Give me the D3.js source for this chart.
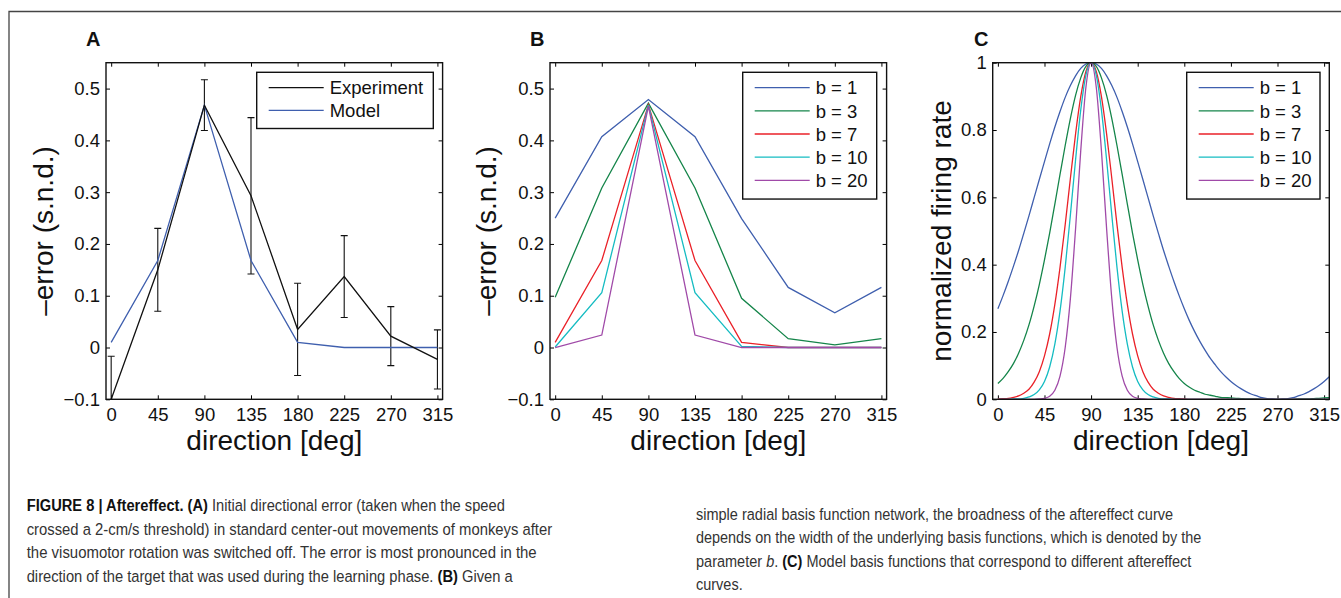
<!DOCTYPE html>
<html>
<head>
<meta charset="utf-8">
<script src="https://cdn.jsdelivr.net/npm/d3@7"></script>
<style>
  body { margin: 0; background: #fff; }
  svg { display: block; font-family: "Liberation Sans", Arial, Helvetica, sans-serif; }
</style>
</head>
<body>
<svg id="fig" width="1341" height="598"></svg>
<script>
// directions (deg) used in A and B
const directions = [0, 45, 90, 135, 180, 225, 270, 315];
const xTicks = [0, 45, 90, 135, 180, 225, 270, 315];

// panel A
const experiment = [-0.1, 0.15, 0.468, 0.293, 0.035, 0.137, 0.022, -0.023];
const experimentErr = [0.083, 0.08, 0.049, 0.151, 0.089, 0.079, 0.057, 0.057];
const model = [0.01, 0.168, 0.468, 0.168, 0.01, 0, 0, 0];

// panel B, aftereffect curves for each b
const bLabels = ["b = 1", "b = 3", "b = 7", "b = 10", "b = 20"];
const bColors = ["#3f5fae", "#15854a", "#ea2128", "#15bcc2", "#a04aa8"];
const afterB1 = [0.25, 0.407, 0.479, 0.407, 0.249, 0.116, 0.067, 0.116];
const afterB3 = [0.097, 0.308, 0.472, 0.308, 0.095, 0.017, 0.005, 0.017];
const afterB7 = [0.01, 0.168, 0.469, 0.168, 0.01, 0, 0, 0];
const afterB10 = [0.001, 0.106, 0.468, 0.106, 0.002, 0, 0, 0];
const afterB20 = [0, 0.024, 0.466, 0.024, 0, 0, 0, 0];

// panel C, basis functions sampled every 5 deg from 0 to 320
const basisDeg = [0,5,10,15,20,25,30,35,40,45,50,55,60,65,70,75,80,85,90,95,100,105,110,115,120,125,130,135,140,145,150,155,160,165,170,175,180,185,190,195,200,205,210,215,220,225,230,235,240,245,250,255,260,265,270,275,280,285,290,295,300,305,310,315,320];
const basisB1 = [0.269,0.308,0.350,0.395,0.442,0.493,0.545,0.599,0.653,0.706,0.759,0.809,0.855,0.897,0.932,0.961,0.983,0.996,1.000,
  0.996,0.983,0.961,0.932,0.897,0.855,0.809,0.759,0.706,0.653,0.599,0.545,0.493,0.442,0.395,0.350,0.308,0.269,
  0.233,0.201,0.172,0.146,0.122,0.102,0.083,0.067,0.053,0.041,0.031,0.022,0.015,0.010,0.005,0.002,0.001,0.000,0.001,0.002,0.005,0.010,0.015,0.022,0.031,0.041,0.053,0.067];
const basisB3 = [0.047,0.062,0.082,0.106,0.137,0.175,0.221,0.277,0.341,0.414,0.494,0.580,0.668,0.754,0.834,0.903,0.955,0.989,1.000,
  0.989,0.955,0.903,0.834,0.754,0.668,0.580,0.494,0.414,0.341,0.277,0.221,0.175,0.137,0.106,0.082,0.062,0.047,
  0.036,0.027,0.021,0.015,0.012,0.009,0.006,0.005,0.004,0.003,0.002,0.001,0.001,0.001,0,0,0,0,0,0,0,0.001,0.001,0.001,0.002,0.003,0.004,0.005];
const basisB7 = [0.001,0.002,0.003,0.006,0.010,0.018,0.030,0.051,0.082,0.129,0.194,0.282,0.392,0.519,0.656,0.788,0.899,0.974,1.000,
  0.974,0.899,0.788,0.656,0.519,0.392,0.282,0.194,0.129,0.082,0.051,0.030,0.018,0.010,0.006,0.003,0.002,0.001,
  0,0,0,0,0,0,0,0,0,0,0,0,0,0,0,0,0,0,0,0,0,0,0,0,0,0,0,0];
const basisB10 = [0,0,0,0.001,0.001,0.003,0.007,0.014,0.028,0.053,0.096,0.164,0.262,0.392,0.547,0.711,0.859,0.963,1.000,
  0.963,0.859,0.711,0.547,0.392,0.262,0.164,0.096,0.053,0.028,0.014,0.007,0.003,0.001,0.001,0,0,0,
  0,0,0,0,0,0,0,0,0,0,0,0,0,0,0,0,0,0,0,0,0,0,0,0,0,0,0,0];
const basisB20 = [0,0,0,0,0,0,0,0,0.001,0.003,0.009,0.027,0.069,0.154,0.299,0.506,0.738,0.927,1.000,
  0.927,0.738,0.506,0.299,0.154,0.069,0.027,0.009,0.003,0.001,0,0,0,0,0,0,0,0,
  0,0,0,0,0,0,0,0,0,0,0,0,0,0,0,0,0,0,0,0,0,0,0,0,0,0,0,0];

const errTicks = [-0.1, 0, 0.1, 0.2, 0.3, 0.4, 0.5];
const rateTicks = [0, 0.2, 0.4, 0.6, 0.8, 1];

const svg = d3.select("#fig");
svg.append("rect").attr("width", 1341).attr("height", 598).attr("fill", "#fff");

// figure frame (top + left only)
svg.append("path")
  .attr("d", "M9,598V11.5H1341")
  .attr("fill", "none").attr("stroke", "#444").attr("stroke-width", 1.3);

const axTop = 62.7, axBottom = 399.3, side = 336.6;

function panel(opts) {
  const x = d3.scaleLinear().domain([-5, 320]).range([opts.x0, opts.x0 + side]);
  const y = d3.scaleLinear().domain(opts.yDomain).range([axBottom, axTop]);
  const g = svg.append("g");
  const fmt = d3.format(".1~f");

  const clipId = "clip" + opts.letter;
  g.append("clipPath").attr("id", clipId)
    .append("rect").attr("x", opts.x0).attr("y", axTop).attr("width", side).attr("height", axBottom - axTop);

  const styleAxis = sel => {
    sel.select(".domain").remove();
    sel.attr("font-family", null).attr("font-size", 18.5);
    sel.selectAll(".tick line").attr("stroke", "#000").attr("stroke-width", 1);
    sel.selectAll(".tick text").attr("fill", "#111");
  };

  g.append("g").attr("transform", `translate(0,${axBottom})`)
    .call(d3.axisBottom(x).tickValues(xTicks).tickSize(-4).tickPadding(9).tickFormat(d3.format("d")))
    .call(styleAxis);
  g.append("g").attr("transform", `translate(0,${axTop})`)
    .call(d3.axisTop(x).tickValues(xTicks).tickSize(-4).tickFormat(""))
    .call(styleAxis);
  g.append("g").attr("transform", `translate(${opts.x0},0)`)
    .call(d3.axisLeft(y).tickValues(opts.yTicks).tickSize(-4).tickPadding(6).tickFormat(fmt))
    .call(styleAxis);
  g.append("g").attr("transform", `translate(${opts.x0 + side},0)`)
    .call(d3.axisRight(y).tickValues(opts.yTicks).tickSize(-4).tickFormat(""))
    .call(styleAxis);

  const plot = g.append("g").attr("clip-path", `url(#${clipId})`);
  opts.draw(plot, x, y);

  // axes box
  g.append("rect").attr("x", opts.x0).attr("y", axTop).attr("width", side).attr("height", axBottom - axTop)
    .attr("fill", "none").attr("stroke", "#111").attr("stroke-width", 1.4);

  // labels
  g.append("text").attr("x", opts.x0 + side / 2).attr("y", 450)
    .attr("text-anchor", "middle").attr("font-size", 28).attr("fill", "#111")
    .text("direction [deg]");
  g.append("text")
    .attr("transform", `translate(${opts.ylabelX},${(axTop + axBottom) / 2}) rotate(-90)`)
    .attr("text-anchor", "middle").attr("font-size", 28).attr("fill", "#111")
    .text(opts.ylabel);
  g.append("text").attr("x", opts.letterX).attr("y", 45.5)
    .attr("font-size", 20).attr("font-weight", "bold").attr("fill", "#111")
    .text(opts.letter);

  // legend
  const lg = g.append("g");
  lg.append("rect").attr("x", opts.legend.x).attr("y", 72.3)
    .attr("width", opts.legend.w).attr("height", 11 + opts.legend.items.length * opts.legend.step)
    .attr("fill", "#fff").attr("stroke", "#111").attr("stroke-width", 1.4);
  opts.legend.items.forEach((it, i) => {
    const cy = 87.7 + i * opts.legend.step;
    lg.append("line").attr("x1", opts.legend.x + 12).attr("x2", opts.legend.x + 67)
      .attr("y1", cy).attr("y2", cy).attr("stroke", it.color).attr("stroke-width", 1.3);
    lg.append("text").attr("x", opts.legend.x + 73).attr("y", cy).attr("dy", "0.36em")
      .attr("font-size", 18.5).attr("fill", "#111").text(it.label);
  });
}

const lineGen = (x, y) => d3.line().x(d => x(d[0])).y(d => y(d[1]));

// A
panel({
  letter: "A", letterX: 86, x0: 106, yDomain: [-0.1, 0.55], yTicks: errTicks,
  ylabel: "\u2013error (s.n.d.)", ylabelX: 53,
  legend: { x: 256.7, w: 176.6, step: 22.6,
    items: [{ label: "Experiment", color: "#111" }, { label: "Model", color: "#3f5fae" }] },
  draw: (p, x, y) => {
    const eg = p.append("g").attr("stroke", "#111").attr("stroke-width", 1.1);
    directions.forEach((d, i) => {
      const lo = y(experiment[i] - experimentErr[i]), hi = y(experiment[i] + experimentErr[i]);
      eg.append("line").attr("x1", x(d)).attr("x2", x(d)).attr("y1", lo).attr("y2", hi);
      eg.append("line").attr("x1", x(d) - 3.5).attr("x2", x(d) + 3.5).attr("y1", lo).attr("y2", lo);
      eg.append("line").attr("x1", x(d) - 3.5).attr("x2", x(d) + 3.5).attr("y1", hi).attr("y2", hi);
    });
    p.append("path").attr("d", lineGen(x, y)(d3.zip(directions, model)))
      .attr("fill", "none").attr("stroke", "#3f5fae").attr("stroke-width", 1.3);
    p.append("path").attr("d", lineGen(x, y)(d3.zip(directions, experiment)))
      .attr("fill", "none").attr("stroke", "#111").attr("stroke-width", 1.3);
  }
});

// B
const afterSeries = [afterB1, afterB3, afterB7, afterB10, afterB20];
panel({
  letter: "B", letterX: 530, x0: 550, yDomain: [-0.1, 0.55], yTicks: errTicks,
  ylabel: "\u2013error (s.n.d.)", ylabelX: 496,
  legend: { x: 742.7, w: 134, step: 23.15,
    items: bLabels.map((l, i) => ({ label: l, color: bColors[i] })) },
  draw: (p, x, y) => {
    afterSeries.forEach((s, i) => {
      p.append("path").attr("d", lineGen(x, y)(d3.zip(directions, s)))
        .attr("fill", "none").attr("stroke", bColors[i]).attr("stroke-width", 1.3);
    });
  }
});

// C
const basisSeries = [basisB1, basisB3, basisB7, basisB10, basisB20];
panel({
  letter: "C", letterX: 974, x0: 992.7, yDomain: [0, 1], yTicks: rateTicks,
  ylabel: "normalized firing rate", ylabelX: 951,
  legend: { x: 1186.7, w: 133.3, step: 23.15,
    items: bLabels.map((l, i) => ({ label: l, color: bColors[i] })) },
  draw: (p, x, y) => {
    basisSeries.forEach((s, i) => {
      p.append("path").attr("d", lineGen(x, y).curve(d3.curveMonotoneX)(d3.zip(basisDeg, s)))
        .attr("fill", "none").attr("stroke", bColors[i]).attr("stroke-width", 1.3);
    });
  }
});

// caption: condensed look by horizontally scaling each line to its measured width
const captionLines = [
  { x: 26.7, y: 511, w: 478.3, parts: [["FIGURE 8 | Aftereffect. (A)", "b"], [" Initial directional error (taken when the speed", ""]] },
  { x: 26.7, y: 534.5, w: 526, parts: [["crossed a 2-cm/s threshold) in standard center-out movements of monkeys after", ""]] },
  { x: 26.7, y: 558, w: 510, parts: [["the visuomotor rotation was switched off. The error is most pronounced in the", ""]] },
  { x: 26.7, y: 581.5, w: 486.6, parts: [["direction of the target that was used during the learning phase. ", ""], ["(B)", "b"], [" Given a", ""]] },
  { x: 696, y: 519.5, w: 477.3, parts: [["simple radial basis function network, the broadness of the aftereffect curve", ""]] },
  { x: 696, y: 543, w: 505.7, parts: [["depends on the width of the underlying basis functions, which is denoted by the", ""]] },
  { x: 696, y: 566.5, w: 495.7, parts: [["parameter ", ""], ["b", "i"], [". ", ""], ["(C)", "b"], [" Model basis functions that correspond to different aftereffect", ""]] },
  { x: 696, y: 590, w: 46.7, parts: [["curves.", ""]] }
];
captionLines.forEach(l => {
  const t = svg.append("text")
    .attr("font-size", 17).attr("fill", "#333")
    .style("white-space", "pre");
  l.parts.forEach(([s, f]) => {
    const ts = t.append("tspan").text(s);
    if (f === "b") ts.attr("font-weight", "bold").attr("fill", "#111");
    if (f === "i") ts.attr("font-style", "italic");
  });
  const natural = t.node().getComputedTextLength();
  t.attr("transform", `translate(${l.x},${l.y}) scale(${l.w / natural},1)`);
});
</script>
</body>
</html>
